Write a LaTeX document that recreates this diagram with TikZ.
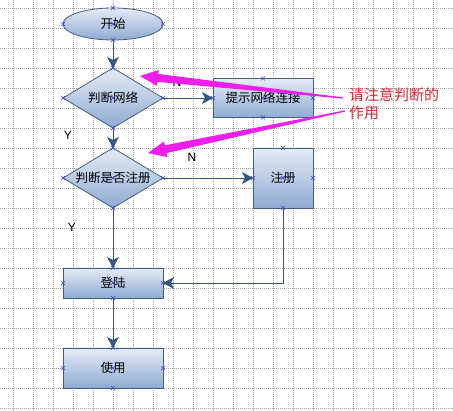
\documentclass[tikz,border=0pt]{standalone}
\usepackage{fontspec}
\setmainfont{Noto Sans CJK SC}
\newfontfamily\latinfont{Liberation Sans}
\usetikzlibrary{shapes.geometric,arrows.meta,calc}
\definecolor{boxtop}{HTML}{E4ECF6}
\definecolor{boxbot}{HTML}{8FAAD2}
\definecolor{boxline}{HTML}{44607F}
\definecolor{flow}{HTML}{36587F}
\definecolor{xblue}{HTML}{3F45D0}
\definecolor{notered}{HTML}{D62A36}
\definecolor{hilite}{HTML}{F01EEA}
\newcommand\pointer[2]{%
  \coordinate (b) at ($(#2)!18pt!(#1)$);
  \fill[hilite] (#2) -- ($(b)!8pt!90:(#2)$) -- ($(b)!4pt!90:(#2)$) -- ($(#1)!0.6pt!90:(#2)$)
    -- ($(#1)!0.6pt!-90:(#2)$) -- ($(b)!4pt!-90:(#2)$) -- ($(b)!8pt!-90:(#2)$) -- cycle;}
\newcommand\xmarks[1]{%
  \foreach \a in {north,south,east,west,center}
    \draw[xmark] ($(#1.\a)+(-2,-2)$) -- ++(4,4) ($(#1.\a)+(-2,2)$) -- ++(4,-4);}
\begin{document}
\begin{tikzpicture}[x=1pt,y=-1pt,
  gridline/.style={gray!70, line width=0.6pt, dash pattern=on 1pt off 1pt},
  flowbox/.style={draw=boxline, line width=0.8pt, top color=boxtop, bottom color=boxbot,
    inner sep=0pt, outer sep=0pt, font=\fontsize{12.5}{14}\selectfont},
  flowdiamond/.style={flowbox, diamond, aspect=1.667, minimum width=100pt, minimum height=60pt},
  flowarrow/.style={draw=flow, line width=0.9pt, -{Stealth[length=11pt,width=12pt,inset=3pt]}},
  yn/.style={font=\latinfont\fontsize{12}{14}\selectfont, inner sep=0pt},
  xmark/.style={xblue, line width=0.6pt}]
\fill[white] (0,0) rectangle (453,411);
\useasboundingbox (0,0) rectangle (453,411);
\foreach \x in {13,33,...,453} \draw[gridline] (\x,0) -- (\x,411);
\foreach \y in {8,28,...,408} \draw[gridline] (0,\y) -- (453,\y);
\node[flowbox, ellipse, minimum width=100pt, minimum height=32pt] (start) at (113,24) {开始};
\node[flowdiamond] (net) at (113,98) {判断网络};
\node[flowbox, minimum width=100pt, minimum height=39pt] (hint) at (263,98) {提示网络连接};
\node[flowdiamond] (reg) at (113,178) {判断是否注册};
\node[flowbox, minimum width=60pt, minimum height=60pt] (signup) at (283,178) {注册};
\node[flowbox, minimum width=100pt, minimum height=30pt] (login) at (113,283) {登陆};
\node[flowbox, minimum width=100pt, minimum height=40pt] (use) at (113,368) {使用};
\node[yn] (n1) at (177,82) {N};
\node[yn] (y1) at (68,135) {Y};
\node[yn] (n2) at (192,157) {N};
\node[yn] (y2) at (72,227) {Y};
\draw[flowarrow] (start) -- (net);
\draw[flowarrow] (net) -- (hint);
\draw[flowarrow] (net) -- (reg);
\draw[flowarrow] (reg) -- (signup);
\draw[flowarrow] (reg) -- (login);
\draw[flowarrow] (signup) |- (login);
\draw[flowarrow] (login) -- (use);
\xmarks{start} \xmarks{net} \xmarks{hint} \xmarks{reg} \xmarks{signup} \xmarks{login} \xmarks{use}
\node[anchor=north west, align=left, text=notered, inner sep=0pt,
  font=\fontsize{15}{18}\selectfont] (note) at (349,88) {请注意判断的\\作用};
\coordinate (tail1) at (343,98);
\coordinate (aim1) at (140,76);
\coordinate (tail2) at (345,111);
\coordinate (aim2) at (148,153);
\pointer{tail1}{aim1}
\pointer{tail2}{aim2}
\end{tikzpicture}
\end{document}
